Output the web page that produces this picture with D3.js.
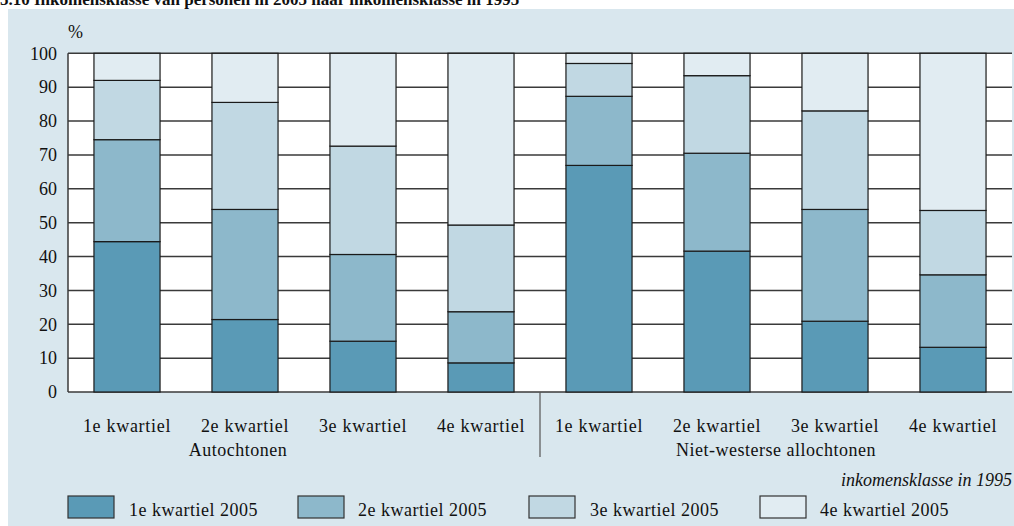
<!DOCTYPE html>
<html><head><meta charset="utf-8">
<script src="https://cdn.jsdelivr.net/npm/d3@7"></script>
<style>
html,body{margin:0;padding:0;background:#fff;}
svg{display:block;font-family:"Liberation Serif","Times New Roman",serif;}
</style></head>
<body>
<svg id="c" width="1014" height="526"></svg>
<script>
const title = "5.10 Inkomensklasse van personen in 2005 naar inkomensklasse in 1995";
const categories = ["1e kwartiel","2e kwartiel","3e kwartiel","4e kwartiel","1e kwartiel","2e kwartiel","3e kwartiel","4e kwartiel"];
const groups = ["Autochtonen","Niet-westerse allochtonen"];
const seriesNames = ["1e kwartiel 2005","2e kwartiel 2005","3e kwartiel 2005","4e kwartiel 2005"];
const q1 = [44.4, 21.4, 15.0, 8.6, 66.9, 41.6, 20.9, 13.2];
const q2 = [30.1, 32.5, 25.6, 15.1, 20.4, 28.9, 33.0, 21.4];
const q3 = [17.5, 31.6, 32.0, 25.6, 9.7, 22.9, 29.1, 19.0];
const q4 = [8.0, 14.5, 27.4, 50.7, 3.0, 6.6, 17.0, 46.4];
const yTicks = [0,10,20,30,40,50,60,70,80,90,100];
const colors = ["#5a9ab6","#8db8cb","#c1d8e3","#e1ecf2"];

const svg = d3.select("#c");
const L = 68, R = 1012, T = 53.3, B = 392;

svg.append("text").attr("x",0).attr("y",5).attr("font-weight","bold").attr("font-size",17).attr("fill","#111").text(title);
svg.append("rect").attr("x",8).attr("y",9).attr("width",1006).attr("height",517).attr("fill","#d9e7ee");

const x = d3.scaleBand().domain(d3.range(categories.length)).range([L,R]).paddingInner(0.44).paddingOuter(0.22);
const y = d3.scaleLinear().domain([0,100]).range([B,T]);

svg.append("rect").attr("x",L).attr("y",T).attr("width",R-L).attr("height",B-T).attr("fill","#fff");
svg.append("g").selectAll("line").data(yTicks).join("line")
  .attr("x1",L).attr("x2",R).attr("y1",d=>y(d)).attr("y2",d=>y(d))
  .attr("stroke","#3a3a3a").attr("stroke-width",1.5);
svg.append("line").attr("x1",L).attr("x2",L).attr("y1",T).attr("y2",B).attr("stroke","#3a3a3a").attr("stroke-width",1.5);

const rows = categories.map((c,i)=>({i, v:[q1[i],q2[i],q3[i],q4[i]]}));
const stack = d3.stack().keys([0,1,2,3]).value((d,k)=>d.v[k]);
const stacked = stack(rows);
stacked.forEach((s,k)=>{
  svg.append("g").selectAll("rect").data(s).join("rect")
    .attr("x",d=>x(d.data.i)).attr("width",x.bandwidth())
    .attr("y",d=>y(Math.min(d[1],100))).attr("height",d=>y(d[0])-y(Math.min(d[1],100)))
    .attr("fill",colors[k]).attr("stroke","#1a1a1a").attr("stroke-width",1.2);
});

const yAxis = d3.axisLeft(y).tickValues(yTicks).tickSize(0).tickPadding(11).tickFormat(d3.format("d"));
const gy = svg.append("g").attr("transform",`translate(${L},0)`).call(yAxis);
gy.select(".domain").remove();
gy.selectAll("text").attr("font-family","Liberation Serif").attr("font-size",18).attr("fill","#111");
svg.append("text").attr("x",68).attr("y",38).attr("font-size",18).attr("fill","#111").text("%");

const xAxis = d3.axisBottom(x).tickFormat(i=>categories[i]).tickSize(0).tickPadding(27);
const gx = svg.append("g").attr("transform",`translate(0,${B})`).call(xAxis);
gx.select(".domain").remove();
gx.selectAll("text").attr("font-family","Liberation Serif").attr("font-size",18).attr("fill","#111").attr("letter-spacing","0.7px");

svg.append("line").attr("x1",540).attr("x2",540).attr("y1",B).attr("y2",457).attr("stroke","#555").attr("stroke-width",1.2);
const groupX = [238, (x(4)+x(7)+x.bandwidth())/2];
svg.append("g").selectAll("text").data(groups).join("text")
  .attr("x",(d,i)=>groupX[i]).attr("y",456).attr("text-anchor","middle").attr("font-size",18).attr("fill","#111").attr("letter-spacing","0.5px").text(d=>d);
svg.append("text").attr("x",1012).attr("y",486).attr("text-anchor","end").attr("font-style","italic").attr("font-size",18).attr("fill","#111").text("inkomensklasse in 1995");

const legX = [68, 298, 529, 760];
const lg = svg.append("g").selectAll("g").data(seriesNames).join("g").attr("transform",(d,i)=>`translate(${legX[i]},496)`);
lg.append("rect").attr("width",46).attr("height",22).attr("fill",(d,i)=>colors[i]).attr("stroke","#333").attr("stroke-width",1.2);
lg.append("text").attr("x",(d,i)=>i===1?60:(i===3?60:61)).attr("y",20).attr("font-size",18).attr("fill","#111").attr("letter-spacing","0.5px").text(d=>d);
</script>
</body></html>
